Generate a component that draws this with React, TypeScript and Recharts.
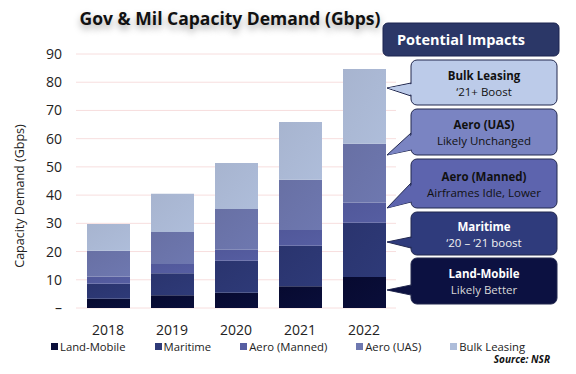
import React from "react";
import { BarChart, Bar, XAxis, YAxis, CartesianGrid } from "recharts";

const years = ["2018", "2019", "2020", "2021", "2022"];
const landMobile = [3.3, 4.5, 5.4, 7.7, 11.0];
const maritime = [5.3, 7.8, 11.3, 14.4, 19.2];
const aeroManned = [2.6, 3.3, 3.9, 5.5, 7.2];
const aeroUAS = [9.1, 11.3, 14.5, 17.8, 20.8];
const bulkLeasing = [9.5, 13.6, 16.3, 20.5, 26.5];
const yTicks = [0, 10, 20, 30, 40, 50, 60, 70, 80, 90];

const seriesNames = ["Land-Mobile", "Maritime", "Aero (Manned)", "Aero (UAS)", "Bulk Leasing"];
const seriesKeys = ["landMobile", "maritime", "aeroManned", "aeroUAS", "bulkLeasing"];
const seriesColors = ["#0a0e3a", "#2e3a78", "#565ea2", "#6e78b0", "#aebdda"];
const seriesColorsDark = ["#070a30", "#2a346e", "#51589a", "#6870a4", "#a7b4cf"];

const impactTitles = ["Bulk Leasing", "Aero (UAS)", "Aero (Manned)", "Maritime", "Land-Mobile"];
const impactNotes = ["\u201821+ Boost", "Likely Unchanged", "Airframes Idle, Lower", "\u201820 \u2013 \u201821 boost", "Likely Better"];

const data = years.map((year, i) => ({
  year,
  landMobile: landMobile[i],
  maritime: maritime[i],
  aeroManned: aeroManned[i],
  aeroUAS: aeroUAS[i],
  bulkLeasing: bulkLeasing[i],
}));

const FONT = "'Open Sans', sans-serif";

// callout layout (box top/bottom, tail base top/bottom, tail tip y)
const callouts = [
  { top: 60, bottom: 105, b1: 83, b2: 96, tip: 88, fill: "#bccbe9", text: "#111", note: "#111" },
  { top: 109, bottom: 155, b1: 133, b2: 150, tip: 155, fill: "#7a84c2", text: "#111", note: "#111" },
  { top: 159, bottom: 208, b1: 183, b2: 202, tip: 208, fill: "#5d64ae", text: "#111", note: "#111" },
  { top: 212, bottom: 255, b1: 237, b2: 248, tip: 242, fill: "#2f3b7c", text: "#fff", note: "#f2f2f2" },
  { top: 258, bottom: 304, b1: 285, b2: 295, tip: 290, fill: "#0c1141", text: "#fff", note: "#d8d8d8" },
];

const YTick = ({ x, y, payload }: any) => (
  <text x={x - 6} y={y} dy={5} textAnchor="end" fontSize={14} fill="#222" fontFamily={FONT}>
    {payload.value === 0 ? "\u2013" : payload.value}
  </text>
);

const XTick = ({ x, y, payload }: any) => (
  <text x={x} y={y} dy={19} textAnchor="middle" fontSize={14} fill="#222" fontFamily={FONT}>
    {payload.value}
  </text>
);

function Callouts() {
  const left = 411;
  const right = 557;
  const tipX = 387;
  return (
    <svg width={576} height={374} style={{ position: "absolute", left: 0, top: 0 }}>
      <rect x={383} y={23} width={176} height={33} rx={5} fill="#2b3767" stroke="#1d2550" />
      <text x={397} y={45} fontSize={14.5} fontWeight={700} fill="#fff" fontFamily={FONT}>
        Potential Impacts
      </text>
      {callouts.map((c, i) => (
        <g key={i}>
          <polygon points={`${tipX},${c.tip} ${left},${c.b1} ${left},${c.b2}`} fill={c.fill} stroke="#23294f" strokeWidth={1} />
          <rect x={left} y={c.top} width={right - left} height={c.bottom - c.top} rx={6} fill={c.fill} stroke="#23294f" strokeWidth={1} />
          <polygon points={`${tipX + 1},${c.tip} ${left + 2},${c.b1 + 0.8} ${left + 2},${c.b2 - 0.8}`} fill={c.fill} />
          <text x={484} y={(c.top + c.bottom) / 2 - 3} textAnchor="middle" fontSize={11.5} fontWeight={700} fill={c.text} fontFamily={FONT}>
            {impactTitles[i]}
          </text>
          <text x={484} y={(c.top + c.bottom) / 2 + 13} textAnchor="middle" fontSize={11.5} fill={c.note} fontFamily={FONT}>
            {impactNotes[i]}
          </text>
        </g>
      ))}
    </svg>
  );
}

export default function App() {
  return (
    <div style={{ position: "absolute", left: 0, top: 0, width: 576, height: 374, background: "#fff", fontFamily: FONT, overflow: "hidden" }}>
      <div
        style={{
          position: "absolute",
          left: 0,
          width: 460,
          top: 6,
          textAlign: "center",
          fontSize: 17.5,
          fontWeight: 700,
          color: "#111",
          textShadow: "0 4px 7px rgba(0,0,0,0.35)",
        }}
      >
        Gov &amp; Mil Capacity Demand (Gbps)
      </div>
      <div
        style={{
          position: "absolute",
          left: 19,
          top: 196,
          transform: "translate(-50%, -50%) rotate(-90deg)",
          fontSize: 12.5,
          color: "#222",
          whiteSpace: "nowrap",
        }}
      >
        Capacity Demand (Gbps)
      </div>
      <BarChart width={576} height={374} data={data} margin={{ top: 54, right: 180, bottom: 36, left: 46 }} barSize={43}>
        <defs>
          {seriesKeys.map((k, i) => (
            <linearGradient key={k} id={`g-${k}`} x1="0" y1="0" x2="1" y2="1">
              <stop offset="0%" stopColor={seriesColorsDark[i]} />
              <stop offset="100%" stopColor={seriesColors[i]} />
            </linearGradient>
          ))}
        </defs>
        <CartesianGrid vertical={false} stroke="#f7dede" />
        <XAxis dataKey="year" height={30} axisLine={false} tickLine={false} tick={<XTick />} />
        <YAxis width={30} domain={[0, 90]} ticks={yTicks} axisLine={false} tickLine={false} tick={<YTick />} interval={0} />
        {seriesKeys.map((k, i) => (
          <Bar key={k} dataKey={k} name={seriesNames[i]} stackId="a" fill={`url(#g-${k})`} isAnimationActive={false} />
        ))}
      </BarChart>
      <Callouts />
      <div style={{ position: "absolute", left: 51, top: 339, display: "flex", gap: 29, fontSize: 11.3, color: "#222" }}>
        {seriesNames.map((n, i) => (
          <div key={n} style={{ display: "flex", alignItems: "center", whiteSpace: "nowrap" }}>
            <span style={{ width: 7, height: 7, background: seriesColors[i], display: "inline-block", marginRight: 2 }} />
            {n}
          </div>
        ))}
      </div>
      <div style={{ position: "absolute", right: 26, top: 352, fontSize: 10, fontWeight: 700, fontStyle: "italic", color: "#111" }}>
        Source: NSR
      </div>
    </div>
  );
}
